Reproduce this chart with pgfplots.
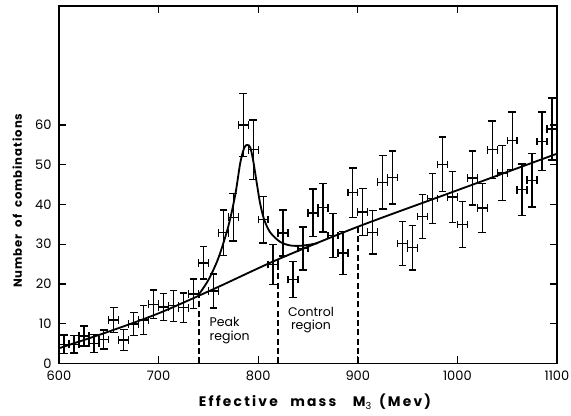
\documentclass[border=0pt]{standalone}
\usepackage{fontspec}
\setmainfont{Poppins}
\usepackage{pgfplots}
\usepackage{pgfplotstable}
\usetikzlibrary{calc}
\pgfplotsset{compat=1.18}

% mass bin (MeV), combinations, half bin width, error
\pgfplotstableread{
x     y     ex  ey
605   4.8   5   2.3
615   4.8   5   2.2
625   6.9   5   2.5
635   5.0   5   2.3
645   6.0   5   2.4
655   10.9  5   3.1
665   5.9   5   2.6
675   9.9   5   2.9
685   10.9  5   3.6
695   14.9  5   3.6
705   14.2  5   3.4
715   14.5  5   3.9
725   14.0  5   3.7
735   17.5  5   3.7
745   25.3  5   4.1
755   18.2  5   4.3
765   32.9  5   5.7
775   36.8  5   6.0
785   60.0  5   7.9
795   53.8  5   7.5
805   36.2  5   5.9
815   24.9  5   5.0
825   32.8  5   5.8
835   21.1  5   4.5
845   28.9  5   5.4
855   37.9  5   6.0
865   39.2  5   6.1
875   32.2  5   5.5
885   27.8  5   5.4
895   43.0  5   6.2
905   38.1  5   5.9
915   33.0  5   5.5
925   45.6  5   6.7
935   46.8  5   6.7
945   30.2  5   5.5
955   29.1  5   5.6
965   37.0  5   5.6
975   41.5  5   6.3
985   50.1  5   6.9
995   41.9  5   6.4
1005  35.0  5   5.8
1015  46.7  5   6.8
1025  39.1  5   6.2
1035  53.8  5   7.2
1045  47.9  5   6.9
1055  56.1  5   7.2
1065  43.7  5   6.5
1075  46.1  5   6.7
1085  55.9  5   7.4
1095  59.0  5   7.8
}\combos

\begin{document}
\begin{tikzpicture}
\begin{axis}[name=ax, scale only axis, width=298.8pt, height=214.4pt,
  xmin=600, xmax=1100, ymin=0, ymax=90,
  xtick={600,700,...,1100}, ytick={0,10,...,60},
  tick pos=both, tick align=inside, major tick length=4.5pt,
  axis line style={line width=1pt},
  every tick/.style={black, line width=0.8pt},
  /pgf/number format/assume math mode=true,
  /pgf/number format/1000 sep={},
  tick label style={font=\fontsize{7.8}{8}\selectfont},
  xticklabel style={yshift=-1pt},
  yticklabel style={xshift=-1pt},
  xlabel={\addfontfeature{LetterSpace=16}Effective\hspace{0.9em}mass\hspace{1.2em}M$_{\mathrm{3}}$\hspace{0.5em}(Mev)},
  ylabel={\addfontfeature{LetterSpace=8}Number\ \ of\ \ combinations},
  label style={font=\fontsize{7}{8}\selectfont\bfseries},
  xlabel style={font=\fontsize{8.3}{9}\selectfont\bfseries, at={(axis description cs:0.514,-0.108)}, anchor=center},
  ylabel style={at={(axis description cs:-0.084,0.455)}, anchor=center},
  clip=false]

  % measured combinations with x and y error bars
  \addplot[black, draw=none, mark=none,
    error bars/.cd, x dir=both, x explicit, y dir=both, y explicit,
    error bar style={black, solid, line width=0.8pt},
    error mark=|,
    error mark options={black, solid, line width=0.8pt, mark size=2.3pt}]
    table[x=x, y=y, x error=ex, y error=ey] {\combos};

  % background
  \addplot[black, line width=1.1pt, smooth] coordinates {
    (600,3.8) (650,8.0) (700,12.6) (756,18.8) (820,26.2) (900,34.4) (1000,43.6) (1100,52.8)};

  % resonance peak
  \addplot[black, line width=1.1pt, smooth, tension=0.5] coordinates {
    (740,17.2) (750,21.0) (760,26.5) (770,34.5) (777,42.5) (782,50.5) (786,54.3) (789,55.0)
    (792,54.4) (795,51.0) (798.5,45.5) (802,40.2) (806,36.2) (812,33.0) (822,30.6)
    (832,29.7) (842,29.6) (852,29.9) (860,30.3)};

  % region boundaries
  \addplot[black, line width=0.9pt, dash pattern=on 3.6pt off 2pt] coordinates {(740.4,0) (740.4,17.2)};
  \addplot[black, line width=0.9pt, dash pattern=on 3.6pt off 2pt] coordinates {(820,0) (820,26.2)};
  \addplot[black, line width=0.9pt, dash pattern=on 3.6pt off 2pt] coordinates {(900,0) (900,34.4)};

  \node[anchor=north west, align=left, inner sep=0pt, font=\fontsize{7.5}{8}\selectfont]
    at (axis cs:751,11.6) {Peak\\region};
  \node[anchor=north, align=center, inner sep=0pt, font=\fontsize{7.5}{8}\selectfont]
    at (axis cs:853,14.3) {Control\\region};
\end{axis}
\pgfresetboundingbox
\path[use as bounding box] ($(ax.south west)+(-35.4pt,-31pt)$) rectangle ($(ax.north east)+(8.4pt,3.6pt)$);
\end{tikzpicture}
\end{document}
